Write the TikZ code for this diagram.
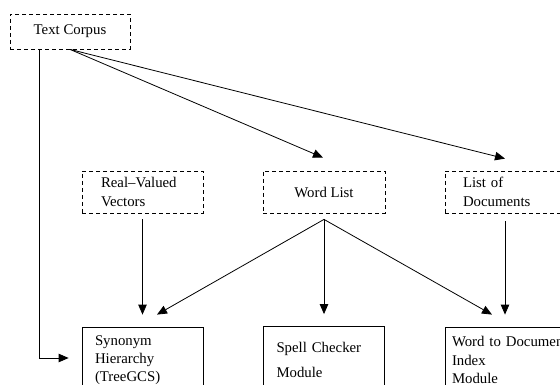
\documentclass[tikz,border=0pt]{standalone}
\usepackage{fontspec}
\setmainfont{Liberation Serif}
\usetikzlibrary{arrows.meta,calc}
\begin{document}
\begin{tikzpicture}[x=1pt,y=-1pt,
  txt/.style={font=\fontsize{14.8}{18.3}\selectfont},
  dbox/.style={txt, draw, dash pattern=on 4pt off 3pt, line width=0.8pt,
    minimum height=42pt, inner ysep=0pt},
  sbox/.style={txt, draw, line width=0.8pt, minimum width=121pt,
    minimum height=66pt, inner ysep=0pt, align=left},
  arr/.style={line width=0.8pt, -{Triangle[length=10pt,width=8.5pt]}}]
\useasboundingbox (0,0) rectangle (560,385);
\clip (0,0) rectangle (560,385);

% source
\node[dbox, minimum width=120pt, minimum height=35pt] (tc) at (70,31.5) {Text Corpus};

% intermediate data
\node[dbox, text width=83pt, inner xsep=19pt, align=left] (rv) at (142.5,192) {Real--Valued\\Vectors};
\node[dbox, minimum width=122pt] (wl) at (324,192) {Word List};
\node[dbox, text width=85pt, inner xsep=18pt, align=left] (ld) at (505.5,192) {List of\\Documents};

% modules
\node[sbox, text width=95pt, inner xsep=13pt] (syn) at (142.5,360) {Synonym\\Hierarchy\\(TreeGCS)};
\node[sbox, text width=95pt, inner xsep=13pt] (spl) at (324,359.5) {Spell Checker\\[6.7pt]Module};
\node[sbox, text width=107pt, inner xsep=7pt] (wtd) at (505.5,360) {\mbox{Word to Document}\\Index\\Module};

% arrow tips and line starts
\coordinate (tcv) at ($(tc.south west)+(30,0)$);
\coordinate (syntip) at ($(syn.west)+(-13,-2)$);
\coordinate (wltip) at ($(wl.north)+(-1,-13)$);
\coordinate (ldtip) at ($(ld.north)+(-0.5,-12)$);
\coordinate (rvout) at ($(rv.south)+(0,6)$);
\coordinate (wlout) at ($(wl.south)+(0,6)$);
\coordinate (ldout) at ($(ld.south)+(-0.5,8)$);
\coordinate (syntop) at ($(syn.north)+(0,-12)$);
\coordinate (syntop2) at ($(syn.north)+(14.5,-12)$);
\coordinate (spltop) at ($(spl.north)+(0,-12)$);
\coordinate (wtdtop) at ($(wtd.north)+(-13.5,-12)$);
\coordinate (wtdtop2) at ($(wtd.north)+(-0.5,-12)$);

% connectors
\draw[arr] (tc.south) -- (wltip);
\draw[arr] (tc.south) -- (ldtip);
\draw[arr] (tcv) |- (syntip);
\draw[arr] (rvout) -- (syntop);
\draw[arr] (wlout) -- (syntop2);
\draw[arr] (wlout) -- (spltop);
\draw[arr] (wlout) -- (wtdtop);
\draw[arr] (ldout) -- (wtdtop2);
\end{tikzpicture}
\end{document}
